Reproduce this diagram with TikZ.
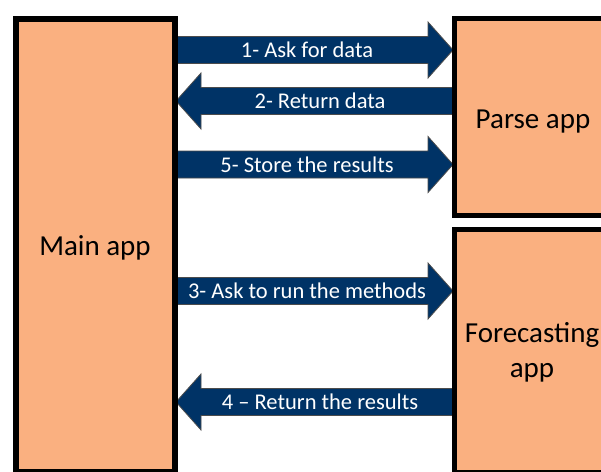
\documentclass[tikz,border=0pt]{standalone}
\usepackage{fontspec}
\setmainfont{Carlito}
\usetikzlibrary{calc}
\definecolor{peach}{RGB}{250,176,128}
\definecolor{navy}{RGB}{0,51,102}
\tikzset{
  appbox/.style={draw=black, fill=peach},
  flow/.style={fill=navy, draw=black!70, line width=0.8pt, line join=miter},
  flowtext/.style={text=white, font=\fontsize{22.5}{26}\selectfont, anchor=base, inner sep=0pt},
  apptext/.style={text=black, font=\fontsize{29}{35}\selectfont, anchor=base, inner sep=0pt, align=center},
}
\begin{document}
\begin{tikzpicture}[x=1pt,y=-1pt]
\useasboundingbox (0,0) rectangle (601,471);
\clip (0,0) rectangle (601,471);
% arrows (right-pointing: 1,5,3 ; left-pointing: 2,4)
\coordinate (a1s) at (176,50);  \coordinate (a1e) at (453,50);
\coordinate (a2s) at (453,101); \coordinate (a2e) at (176,101);
\coordinate (a5s) at (176,164.5); \coordinate (a5e) at (453,164.5);
\coordinate (a3s) at (176,291); \coordinate (a3e) at (453,291);
\coordinate (a4s) at (453,402); \coordinate (a4e) at (176,402);
\foreach \s/\e/\d in {a1s/a1e/1, a5s/a5e/1, a3s/a3e/1, a2s/a2e/-1, a4s/a4e/-1}{
  \path[flow] ($(\s)+(0,-13.5)$) -- ($(\e)+(-25*\d,-13.5)$) -- ($(\e)+(-25*\d,-28)$) -- (\e)
     -- ($(\e)+(-25*\d,28)$) -- ($(\e)+(-25*\d,13.5)$) -- ($(\s)+(0,13.5)$) -- cycle;
}
% boxes
\draw[appbox, line width=6pt] (16,18.5) rectangle (175,472);
\draw[appbox, line width=5pt] (454.5,18) rectangle (640,215);
\draw[appbox, line width=5pt] (454.5,229.5) rectangle (640,472);
\node[apptext] (main) at (95,255) {Main app};
\node[apptext] (parse) at (533,128) {Parse app};
\node[apptext] (fore) at (532,342) {Forecasting};
\node[apptext] (fore2) at (532,377) {app};
% labels
\node[flowtext] (l1) at (307,57.5) {1- Ask for data};
\node[flowtext] (l2) at (320,108.5) {2- Return data};
\node[flowtext] (l5) at (307,172) {5- Store the results};
\node[flowtext] (l3) at (307,298.5) {3- Ask to run the methods};
\node[flowtext] (l4) at (320,409.5) {4 – Return the results};
\end{tikzpicture}
\end{document}
